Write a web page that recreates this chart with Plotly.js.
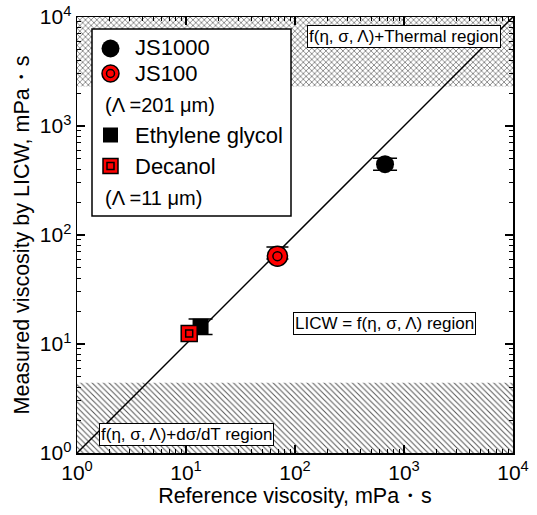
<!DOCTYPE html>
<html>
<head>
<meta charset="utf-8">
<script src="https://cdn.plot.ly/plotly-3.0.1.min.js"></script>
<style>html,body{margin:0;padding:0;background:#fff;}#plot{width:537px;height:515px;}</style>
</head>
<body>
<div id="plot"></div>
<script>
// ---- data ----
const sampleNames = ['JS1000', 'JS100', 'Ethylene glycol', 'Decanol'];
const referenceViscosity = [670, 69, 13.6, 10.7];
const measuredViscosity = [446, 64, 14.4, 12.5];
const errorPlus = [60, 13.5, 2.6, 1.7];
const errorMinus = [53, 3.9, 2.2, 1.5];
const idealLineX = [1, 10000];
const idealLineY = [1, 10000];
const thermalRegionY = [2300, 10000];
const surfaceTensionRegionY = [1, 4.4];
const axisRangeX = [1, 10000];
const tickValues = [1, 10, 100, 1000, 10000];
const tickLabels = ['10<sup>0</sup>', '10<sup>1</sup>', '10<sup>2</sup>', '10<sup>3</sup>', '10<sup>4</sup>'];

// ---- layout helpers ----
const W = 537, H = 515, L = 77, R = 513, T = 17, B = 453;
const px = x => (x - L) / (R - L);
const py = y => (B - y) / (B - T);
const FONT = 'Arial, "Liberation Sans", sans-serif';

const minorVals = [];
for (let d = 1; d < 10000; d *= 10) for (let k = 2; k <= 9; k++) minorVals.push(k * d);

function pt(i, style) {
  return Object.assign({
    x: [referenceViscosity[i]], y: [measuredViscosity[i]], name: sampleNames[i],
    type: 'scatter', mode: 'markers', showlegend: false, cliponaxis: false
  }, style);
}

const traces = [
  { x: [axisRangeX[0], axisRangeX[1], axisRangeX[1], axisRangeX[0], axisRangeX[0]],
    y: [thermalRegionY[0], thermalRegionY[0], thermalRegionY[1], thermalRegionY[1], thermalRegionY[0]],
    type: 'scatter', mode: 'lines', fill: 'toself', line: { width: 0, color: 'rgba(0,0,0,0)' },
    fillcolor: 'white',
    fillpattern: { shape: 'x', size: 4, solidity: 0.3, fgcolor: '#555', bgcolor: 'white' },
    showlegend: false, hoverinfo: 'skip' },
  { x: [axisRangeX[0], axisRangeX[1], axisRangeX[1], axisRangeX[0], axisRangeX[0]],
    y: [surfaceTensionRegionY[0], surfaceTensionRegionY[0], surfaceTensionRegionY[1], surfaceTensionRegionY[1], surfaceTensionRegionY[0]],
    type: 'scatter', mode: 'lines', fill: 'toself', line: { width: 0, color: 'rgba(0,0,0,0)' },
    fillcolor: 'white',
    fillpattern: { shape: '\\', size: 4, solidity: 0.25, fgcolor: '#555', bgcolor: 'white' },
    showlegend: false, hoverinfo: 'skip' },
  { x: idealLineX, y: idealLineY, type: 'scatter', mode: 'lines',
    line: { color: 'black', width: 1.5 }, showlegend: false },
  pt(0, { marker: { symbol: 'circle', size: 18, color: 'black' },
    error_y: { type: 'data', symmetric: false, array: [errorPlus[0]], arrayminus: [errorMinus[0]], color: 'black', thickness: 1.5, width: 12 } }),
  pt(1, { marker: { symbol: 'circle', size: 20, color: '#ff0000', line: { color: 'black', width: 1.5 } },
    error_y: { type: 'data', symmetric: false, array: [errorPlus[1]], arrayminus: [errorMinus[1]], color: 'black', thickness: 1.5, width: 11 } }),
  pt(1, { marker: { symbol: 'circle-open', size: 9, color: 'black', line: { color: 'black', width: 1.5 } } }),
  pt(2, { marker: { symbol: 'square', size: 16, color: 'black' },
    error_y: { type: 'data', symmetric: false, array: [errorPlus[2]], arrayminus: [errorMinus[2]], color: 'black', thickness: 1.5, width: 12 } }),
  pt(3, { marker: { symbol: 'square', size: 16, color: '#ff0000', line: { color: 'black', width: 1.5 } },
    error_y: { type: 'data', symmetric: false, array: [errorPlus[3]], arrayminus: [errorMinus[3]], color: 'black', thickness: 1.5, width: 8 } }),
  pt(3, { marker: { symbol: 'square-open', size: 7, color: 'black', line: { color: 'black', width: 1.5 } } })
];

// manual legend
const shapes = [
  { type: 'rect', xref: 'paper', yref: 'paper', x0: px(92), x1: px(291), y0: py(216), y1: py(29),
    line: { color: 'black', width: 1.5 }, fillcolor: 'white', layer: 'above' }
];
function circ(cx, cy, r, fill, lw) {
  shapes.push({ type: 'circle', xref: 'paper', yref: 'paper', x0: px(cx - r), x1: px(cx + r), y0: py(cy + r), y1: py(cy - r),
    fillcolor: fill, line: { color: 'black', width: lw } });
}
function sq(cx, cy, r, fill, lw) {
  shapes.push({ type: 'rect', xref: 'paper', yref: 'paper', x0: px(cx - r), x1: px(cx + r), y0: py(cy + r), y1: py(cy - r),
    fillcolor: fill, line: { color: 'black', width: lw } });
}
circ(110.5, 48.5, 9, 'black', 0);
circ(110.5, 73.5, 8.5, '#ff0000', 1.5);
circ(110.5, 73.5, 4, 'rgba(0,0,0,0)', 1.5);
sq(110.5, 135, 7.5, 'black', 0);
sq(110.5, 166, 7.5, '#ff0000', 1.5);
sq(110.5, 166, 3.5, 'rgba(0,0,0,0)', 1.5);

const annotations = [];
function legText(txt, x, y, size) {
  annotations.push({ text: txt, xref: 'paper', yref: 'paper', x: px(x), y: py(y), xanchor: 'left', yanchor: 'middle',
    showarrow: false, font: { family: FONT, size: size || 22, color: 'black' } });
}
legText(sampleNames[0], 133, 48);
legText(sampleNames[1], 133, 73);
legText('(Λ =201 μm)', 103, 105, 20);
legText(sampleNames[2], 133, 135);
legText(sampleNames[3], 133, 166);
legText('(Λ =11 μm)', 103, 198, 20);

function boxText(txt, cx, cy) {
  annotations.push({ text: txt, xref: 'paper', yref: 'paper', x: px(cx), y: py(cy), xanchor: 'center', yanchor: 'middle',
    showarrow: false, bgcolor: 'white', bordercolor: 'black', borderwidth: 1, borderpad: 1,
    font: { family: FONT, size: 17, color: 'black' } });
}
boxText('f(η, σ, Λ)+Thermal region', 403.5, 36.5);
boxText('LICW = f(η, σ, Λ) region', 384, 323.5);
boxText('f(η, σ, Λ)+dσ/dT region', 186, 434.5);

const axisCommon = {
  type: 'log', range: [0, 4], tickmode: 'array', tickvals: tickValues, ticktext: tickLabels,
  ticks: 'inside', ticklen: 8, tickwidth: 1.2, tickcolor: 'black',
  showline: true, linecolor: 'black', linewidth: 1.5, mirror: 'allticks',
  showgrid: false, zeroline: false,
  tickfont: { family: FONT, size: 21, color: 'black' },
  minor: { tickvals: minorVals, ticks: 'inside', ticklen: 4, tickwidth: 1, tickcolor: 'black', showgrid: false }
};

const layout = {
  width: W, height: H,
  margin: { l: L, r: W - R, t: T, b: H - B },
  paper_bgcolor: 'white', plot_bgcolor: 'white',
  showlegend: false,
  xaxis: Object.assign({}, axisCommon, {
    title: { text: 'Reference viscosity, mPa・s', font: { family: FONT, size: 21.5, color: 'black' }, standoff: 2 }
  }),
  yaxis: Object.assign({}, axisCommon, {
    title: { text: 'Measured viscosity by LICW, mPa・s', font: { family: FONT, size: 21.5, color: 'black' }, standoff: 4 }
  }),
  shapes: shapes,
  annotations: annotations
};

Plotly.newPlot('plot', traces, layout, { displayModeBar: false, staticPlot: true });
</script>
</body>
</html>
